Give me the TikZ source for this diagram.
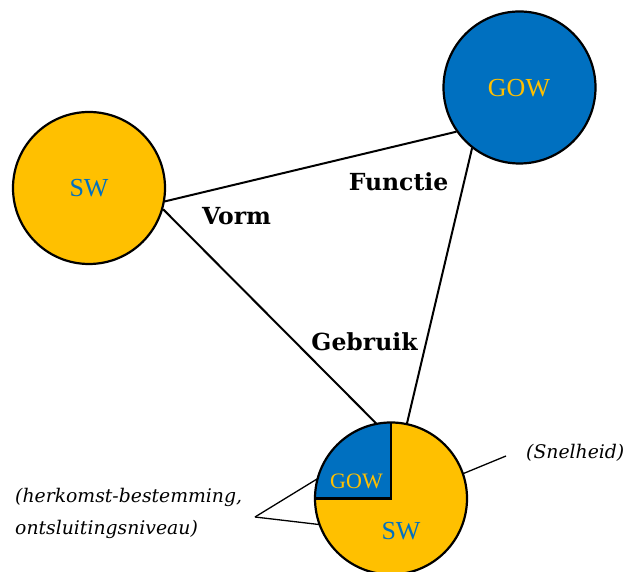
\documentclass[tikz,border=0pt]{standalone}
\usepackage{fontspec}
\setmainfont{Liberation Serif}
\newfontfamily\labfont{DejaVu Serif}
\definecolor{gold}{HTML}{FFC000}
\definecolor{oblue}{HTML}{0070C0}
\tikzset{
  disc/.style={circle, draw=black, line width=2.2pt, minimum size=152pt, inner sep=0pt},
  conn/.style={draw=black, line width=2pt},
  callout/.style={draw=black, line width=1.3pt},
  rel/.style={font=\labfont\bfseries\fontsize{23.5}{28}\selectfont, anchor=base, inner sep=0pt},
  note/.style={font=\labfont\itshape\fontsize{18.8}{32}\selectfont, anchor=base west, inner sep=0pt, align=left},
  big/.style={font=\fontsize{26}{30}\selectfont, anchor=base, inner sep=0pt},
}
\begin{document}
\begin{tikzpicture}[x=1pt,y=1pt]
\useasboundingbox (0,0) rectangle (626,572);
% circles
\node[disc, fill=gold] (sw) at (89,384) {};
\node[disc, fill=oblue] (gow) at (519.5,484.5) {};
\node[circle, fill=gold, minimum size=152pt, inner sep=0pt] (bot) at (391,73.5) {};
\fill[oblue] (bot.center) -- (bot.north) arc[start angle=90, end angle=180, radius=76pt] -- cycle;
\draw[line width=2.2pt] (bot.north) -- (bot.center) -- (bot.west);
\draw[line width=2.2pt] (bot.center) circle[radius=76pt];
% circle texts
\node[big, text=oblue] (swt) at (89,375.3) {SW};
\node[big, text=gold] (gowt) at (519,475.3) {GOW};
\node[big, text=oblue] (swb) at (401,32) {SW};
\node[big, text=gold, font=\fontsize{22}{26}\selectfont] (gowb) at (356.5,83.7) {GOW};
% connectors
\draw[conn] (sw.-10.4) -- (gow.215.5);
\draw[conn] (sw.-16.6) -- (bot.101);
\draw[conn] (gow.232.6) -- (bot.78.4);
% relation labels
\node[rel] (functie) at (398.5,381.3) {Functie};
\node[rel] (vorm) at (236.5,347) {Vorm};
\node[rel] (gebruik) at (364.5,221.3) {Gebruik};
% notes
\node[note] (herk) at (15,37) {(herkomst-bestemming,\\ontsluitingsniveau)};
\node[note] (snel) at (526,113) {(Snelheid)};
\coordinate (apex) at (255,55);
\coordinate (snelend) at (506,116);
\draw[callout] (apex) -- (bot.165);
\draw[callout] (apex) -- (bot.200);
\draw[callout] (bot.19) -- (snelend);
\end{tikzpicture}
\end{document}
